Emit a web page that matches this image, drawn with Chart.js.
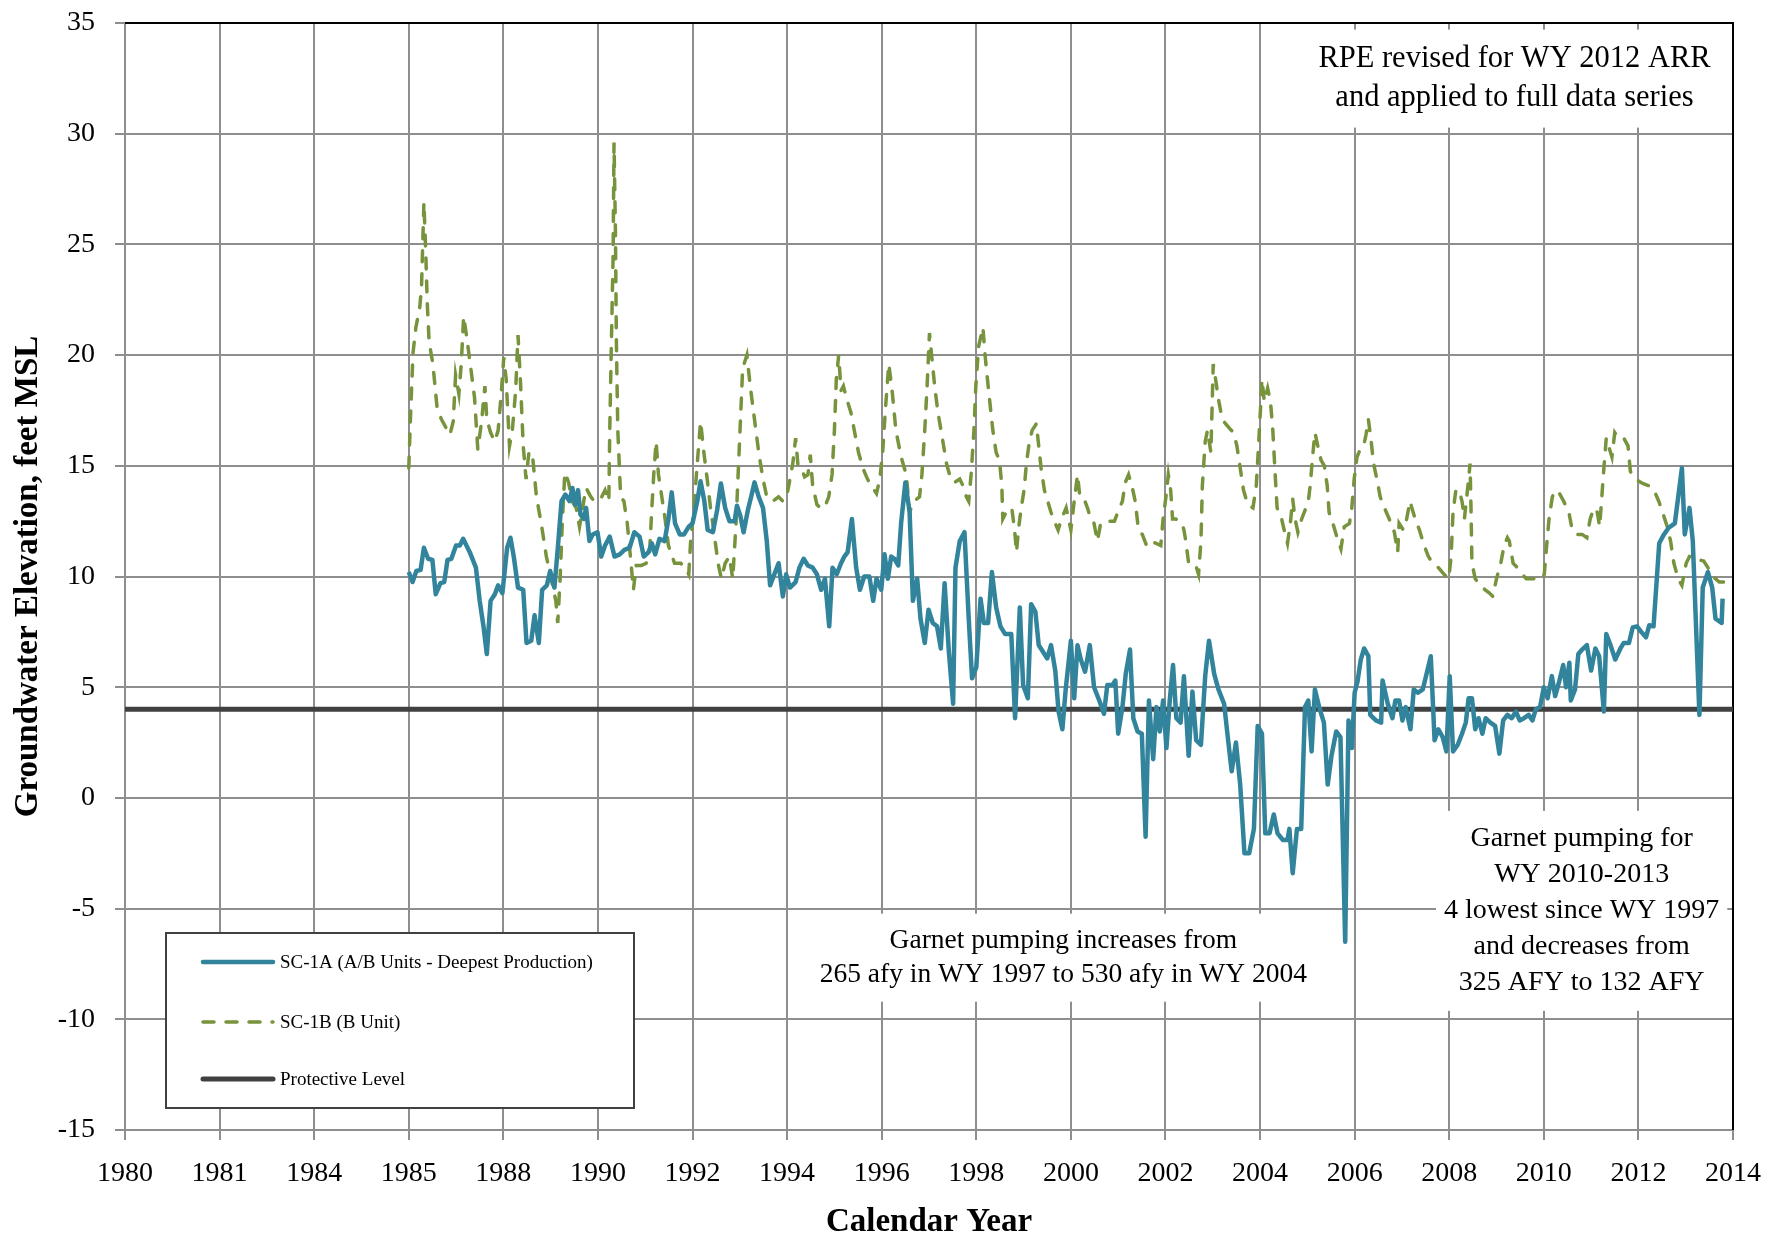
<!DOCTYPE html>
<html>
<head>
<meta charset="utf-8">
<title>SC-1A / SC-1B Groundwater Elevation</title>
<script src="https://cdn.jsdelivr.net/npm/chart.js@4.4.1/dist/chart.umd.min.js"></script>
<style>
  html, body { margin: 0; padding: 0; background: #fff; }
  #wrap { width: 1786px; height: 1239px; }
</style>
</head>
<body>
<div id="wrap"><canvas id="elevChart" width="1786" height="1239"></canvas></div>
<script>
// axis labels as printed on the report figure (one label per 2-year gridline)
const xTickLabels = ["1980", "1981", "1984", "1985", "1988", "1990", "1992", "1994", "1996",
    "1998", "2000", "2002", "2004", "2006", "2008", "2010", "2012", "2014"];
const yTicks = [-15, -10, -5, 0, 5, 10, 15, 20, 25, 30, 35];

const protectiveLevel = 4; // feet MSL

// SC-1A (A/B Units - Deepest Production), decimal year / feet MSL
const sc1aYears = [
    1986.0, 1986.08, 1986.16, 1986.25, 1986.32, 1986.41, 1986.5, 1986.57, 1986.67, 1986.75, 1986.82, 1986.9,
    1987.0, 1987.08, 1987.15, 1987.29, 1987.42, 1987.5, 1987.58, 1987.65, 1987.73, 1987.82, 1987.89, 1987.98,
    1988.08, 1988.15, 1988.22, 1988.31, 1988.42, 1988.49, 1988.59, 1988.66, 1988.75, 1988.82, 1988.92, 1988.99,
    1989.08, 1989.15, 1989.23, 1989.31, 1989.4, 1989.46, 1989.52, 1989.58, 1989.63, 1989.7, 1989.75, 1989.82, 1989.89, 1989.99,
    1990.07, 1990.15, 1990.25, 1990.35, 1990.46, 1990.56, 1990.67, 1990.77, 1990.88, 1990.97,
    1991.07, 1991.14, 1991.21, 1991.3, 1991.41, 1991.49, 1991.56, 1991.63, 1991.73, 1991.82, 1991.92,
    1992.0, 1992.1, 1992.17, 1992.25, 1992.32, 1992.43, 1992.52, 1992.6, 1992.69, 1992.78, 1992.89, 1992.94,
    1993.01, 1993.08, 1993.17, 1993.24, 1993.31, 1993.4, 1993.49, 1993.57, 1993.64, 1993.73, 1993.82, 1993.91, 1993.98,
    1994.06, 1994.18, 1994.26, 1994.35, 1994.44, 1994.54, 1994.63, 1994.72, 1994.8, 1994.89, 1994.96,
    1995.05, 1995.14, 1995.21, 1995.28, 1995.37, 1995.46, 1995.54, 1995.63, 1995.74, 1995.82, 1995.89, 1995.99,
    1996.06, 1996.13, 1996.2, 1996.27, 1996.35, 1996.41, 1996.5, 1996.59, 1996.66, 1996.75, 1996.82, 1996.91, 1996.99,
    1997.08, 1997.17, 1997.25, 1997.33, 1997.42, 1997.51, 1997.56, 1997.65, 1997.75, 1997.84, 1997.91,
    1998.0, 1998.09, 1998.16, 1998.25, 1998.33, 1998.42, 1998.51, 1998.61, 1998.74, 1998.82, 1998.92, 1998.99,
    1999.09, 1999.16, 1999.25, 1999.32, 1999.41, 1999.5, 1999.58, 1999.67, 1999.74, 1999.82, 1999.89,
    2000.0, 2000.07, 2000.14, 2000.21, 2000.3, 2000.4, 2000.49, 2000.6, 2000.7, 2000.77, 2000.88, 2000.94,
    2001.0, 2001.09, 2001.16, 2001.25, 2001.32, 2001.41, 2001.5, 2001.58, 2001.65, 2001.74, 2001.81, 2001.88, 2001.95,
    2002.02, 2002.09, 2002.16, 2002.23, 2002.32, 2002.39, 2002.49, 2002.57, 2002.65, 2002.75, 2002.84, 2002.92,
    2003.03, 2003.12, 2003.24, 2003.32, 2003.4, 2003.49, 2003.58, 2003.67, 2003.77, 2003.87, 2003.95,
    2004.04, 2004.11, 2004.2, 2004.29, 2004.37, 2004.48, 2004.58, 2004.62, 2004.69, 2004.78, 2004.87, 2004.95,
    2005.02, 2005.09, 2005.16, 2005.25, 2005.35, 2005.43, 2005.51, 2005.61, 2005.7, 2005.8, 2005.87, 2005.94,
    2006.0, 2006.06, 2006.13, 2006.2, 2006.29, 2006.33, 2006.45, 2006.56, 2006.59, 2006.7, 2006.8, 2006.86, 2006.94,
    2007.01, 2007.08, 2007.18, 2007.25, 2007.34, 2007.44, 2007.52, 2007.61, 2007.69, 2007.77, 2007.86, 2007.94,
    2008.01, 2008.08, 2008.18, 2008.27, 2008.35, 2008.41, 2008.48, 2008.55, 2008.62, 2008.7, 2008.77, 2008.87, 2008.97,
    2009.06, 2009.14, 2009.23, 2009.32, 2009.41, 2009.49, 2009.58, 2009.68, 2009.76, 2009.83, 2009.92,
    2010.0, 2010.08, 2010.17, 2010.24, 2010.33, 2010.41, 2010.47, 2010.54, 2010.57, 2010.66, 2010.73, 2010.81, 2010.91,
    2011.0, 2011.09, 2011.17, 2011.27, 2011.32, 2011.41, 2011.51, 2011.62, 2011.69, 2011.8, 2011.88, 2011.97,
    2012.06, 2012.16, 2012.23, 2012.32, 2012.44, 2012.54, 2012.64, 2012.77, 2012.92, 2012.98,
    2013.08, 2013.15, 2013.29, 2013.36, 2013.47, 2013.56, 2013.63, 2013.76, 2013.78
];
const sc1aFeet = [
    10.2, 9.75, 10.25, 10.3, 11.3, 10.8, 10.75, 9.2, 9.7, 9.75, 10.75, 10.8,
    11.4, 11.4, 11.7, 11.1, 10.4, 8.9, 7.75, 6.5, 8.9, 9.2, 9.6, 9.25,
    11.3, 11.75, 10.9, 9.5, 9.4, 7.0, 7.1, 8.25, 7.0, 9.4, 9.6, 10.25,
    9.5, 11.25, 13.4, 13.7, 13.4, 14.0, 13.25, 13.9, 12.8, 12.6, 13.1, 11.6, 11.9, 12.0,
    10.9, 11.4, 11.8, 10.9, 11.0, 11.2, 11.3, 12.0, 11.8, 10.9,
    11.1, 11.5, 11.0, 11.7, 11.6, 12.6, 13.8, 12.4, 11.9, 11.9, 12.25,
    12.4, 13.4, 14.3, 13.4, 12.1, 12.0, 13.0, 14.2, 13.1, 12.5, 12.5, 13.2,
    12.75, 12.0, 13.0, 13.6, 14.25, 13.6, 13.1, 11.6, 9.6, 10.1, 10.6, 9.1, 10.1,
    9.5, 9.75, 10.4, 10.8, 10.5, 10.4, 10.1, 9.4, 9.9, 7.75, 10.4,
    10.1, 10.6, 10.9, 11.1, 12.6, 10.4, 9.4, 10.0, 10.0, 8.9, 9.9, 9.4,
    11.0, 9.9, 10.9, 10.8, 10.5, 12.4, 14.25, 12.9, 8.9, 9.9, 8.1, 7.0, 8.5,
    7.9, 7.75, 6.75, 9.7, 6.6, 4.25, 10.4, 11.6, 12.0, 8.1, 5.4,
    5.9, 9.0, 7.9, 7.9, 10.2, 8.6, 7.75, 7.4, 7.4, 3.6, 8.6, 5.1,
    4.5, 8.75, 8.4, 6.9, 6.6, 6.3, 6.9, 5.75, 3.9, 3.1, 4.9,
    7.1, 4.5, 6.9, 6.25, 5.7, 6.9, 5.0, 4.4, 3.8, 5.1, 5.1, 5.3,
    2.9, 4.1, 5.6, 6.7, 3.6, 3.0, 2.9, -1.75, 4.4, 1.75, 4.1, 3.0, 4.4,
    2.25, 4.4, 6.0, 3.6, 3.4, 5.5, 1.9, 4.8, 2.6, 2.4, 5.5, 7.1,
    5.6, 4.9, 4.25, 2.7, 1.2, 2.5, 0.6, -2.5, -2.5, -1.4, 3.25,
    2.9, -1.6, -1.6, -0.75, -1.6, -1.9, -1.9, -1.4, -3.4, -1.4, -1.4, 4.1,
    4.4, 2.1, 4.9, 4.1, 3.4, 0.6, 1.9, 3.0, 2.75, -6.5, 3.5, 2.25,
    4.75, 5.25, 6.25, 6.75, 6.4, 3.75, 3.5, 3.4, 5.3, 4.25, 3.6, 4.4, 4.4,
    3.5, 4.1, 3.1, 4.9, 4.75, 4.9, 5.6, 6.4, 2.6, 3.1, 2.75, 2.1,
    5.5, 2.1, 2.4, 2.9, 3.4, 4.5, 4.5, 3.1, 3.6, 2.9, 3.6, 3.4, 3.25,
    2.0, 3.5, 3.75, 3.6, 3.9, 3.5, 3.6, 3.75, 3.5, 4.0, 4.1,
    5.0, 4.5, 5.5, 4.6, 5.3, 6.0, 5.0, 6.1, 4.4, 4.9, 6.5, 6.7, 6.9,
    5.75, 6.75, 6.4, 3.9, 7.4, 6.9, 6.25, 6.75, 7.0, 7.0, 7.7, 7.75,
    7.5, 7.25, 7.8, 7.75, 11.5, 11.9, 12.2, 12.4, 14.9, 11.9,
    13.1, 11.6, 3.75, 9.5, 10.2, 9.5, 8.1, 7.9, 9.0
];

// SC-1B (B Unit), decimal year / feet MSL
const sc1bYears = [
    1986.0, 1986.04, 1986.09, 1986.15, 1986.23, 1986.27, 1986.32, 1986.36, 1986.39, 1986.43, 1986.51, 1986.6, 1986.69, 1986.87, 1986.94, 1986.99,
    1987.06, 1987.11, 1987.16, 1987.22, 1987.3, 1987.39, 1987.46, 1987.54, 1987.61, 1987.65, 1987.73, 1987.82, 1987.89, 1987.96,
    1988.01, 1988.06, 1988.13, 1988.19, 1988.26, 1988.31, 1988.36, 1988.42, 1988.48, 1988.54, 1988.61, 1988.7, 1988.8, 1988.91,
    1989.01, 1989.11, 1989.15, 1989.2, 1989.25, 1989.3, 1989.38, 1989.45, 1989.54, 1989.61, 1989.7, 1989.75, 1989.85, 1989.92,
    1990.0, 1990.08, 1990.15, 1990.23, 1990.25, 1990.28, 1990.32, 1990.34, 1990.37, 1990.39, 1990.42, 1990.48, 1990.55, 1990.62, 1990.7, 1990.75, 1990.81, 1990.92,
    1991.02, 1991.09, 1991.14, 1991.18, 1991.23, 1991.28, 1991.35, 1991.42, 1991.49, 1991.62, 1991.75, 1991.85, 1991.92, 1991.96,
    1992.03, 1992.1, 1992.17, 1992.24, 1992.31, 1992.38, 1992.46, 1992.54, 1992.61, 1992.69, 1992.78, 1992.85, 1992.92, 1992.99,
    1993.06, 1993.15, 1993.22, 1993.31, 1993.4, 1993.49, 1993.57, 1993.7, 1993.82, 1993.91, 1993.99,
    1994.06, 1994.12, 1994.18, 1994.23, 1994.3, 1994.37, 1994.44, 1994.49, 1994.54, 1994.63, 1994.7, 1994.79, 1994.88, 1994.95,
    1995.0, 1995.04, 1995.09, 1995.14, 1995.19, 1995.25, 1995.35, 1995.42, 1995.51, 1995.6, 1995.7, 1995.81, 1995.89, 1995.96,
    1996.02, 1996.08, 1996.15, 1996.22, 1996.3, 1996.41, 1996.52, 1996.59, 1996.68, 1996.8, 1996.85, 1996.91, 1996.96,
    1997.01, 1997.06, 1997.12, 1997.19, 1997.27, 1997.37, 1997.46, 1997.54, 1997.65, 1997.72, 1997.79, 1997.84, 1997.89, 1997.95, 1997.99,
    1998.05, 1998.14, 1998.19, 1998.26, 1998.35, 1998.42, 1998.49, 1998.54, 1998.56, 1998.63, 1998.75, 1998.81, 1998.85, 1998.89, 1998.95,
    1999.01, 1999.06, 1999.11, 1999.18, 1999.27, 1999.32, 1999.37, 1999.44, 1999.51, 1999.58, 1999.67, 1999.73, 1999.8, 1999.9,
    2000.0, 2000.07, 2000.14, 2000.19, 2000.28, 2000.35, 2000.42, 2000.49, 2000.56, 2000.63, 2000.74, 2000.85, 2000.92,
    2001.01, 2001.09, 2001.15, 2001.22, 2001.29, 2001.36, 2001.43, 2001.51, 2001.6, 2001.69, 2001.8, 2001.9, 2001.95,
    2002.01, 2002.06, 2002.11, 2002.15, 2002.22, 2002.27, 2002.35, 2002.39, 2002.43, 2002.49, 2002.57, 2002.64, 2002.7, 2002.75, 2002.78, 2002.84, 2002.89, 2002.96,
    2003.01, 2003.06, 2003.13, 2003.2, 2003.27, 2003.35, 2003.44, 2003.51, 2003.58, 2003.65, 2003.74, 2003.85, 2003.92, 2003.96,
    2004.01, 2004.04, 2004.09, 2004.16, 2004.22, 2004.27, 2004.32, 2004.36, 2004.44, 2004.51, 2004.58, 2004.64, 2004.69, 2004.74, 2004.8, 2004.88, 2004.97,
    2005.02, 2005.06, 2005.11, 2005.16, 2005.22, 2005.29, 2005.36, 2005.42, 2005.46, 2005.54, 2005.63, 2005.71, 2005.78, 2005.89, 2005.94, 2005.99,
    2006.05, 2006.12, 2006.19, 2006.24, 2006.29, 2006.35, 2006.4, 2006.47, 2006.54, 2006.63, 2006.73, 2006.84, 2006.91, 2006.94,
    2007.03, 2007.1, 2007.17, 2007.21, 2007.28, 2007.37, 2007.47, 2007.56, 2007.65, 2007.77, 2007.89, 2007.99,
    2008.04, 2008.08, 2008.14, 2008.21, 2008.27, 2008.32, 2008.37, 2008.41, 2008.44, 2008.46, 2008.48, 2008.55, 2008.65, 2008.76, 2008.85, 2008.92,
    2009.0, 2009.09, 2009.16, 2009.23, 2009.27, 2009.35, 2009.44, 2009.54, 2009.63, 2009.75, 2009.87, 2009.96,
    2010.01, 2010.06, 2010.11, 2010.18, 2010.25, 2010.33, 2010.42, 2010.53, 2010.6, 2010.7, 2010.81, 2010.91, 2010.98,
    2011.06, 2011.13, 2011.18, 2011.22, 2011.27, 2011.32, 2011.39, 2011.44, 2011.5, 2011.58, 2011.69, 2011.78, 2011.83, 2011.94,
    2012.09, 2012.22, 2012.32, 2012.43, 2012.51, 2012.61, 2012.68, 2012.75, 2012.84, 2012.92,
    2013.01, 2013.08, 2013.19, 2013.28, 2013.38, 2013.47, 2013.54, 2013.63, 2013.71, 2013.8
];
const sc1bFeet = [
    14.9, 17.4, 20.1, 21.25, 22.1, 23.1, 26.9, 24.6, 22.4, 20.6, 19.6, 17.6, 17.1, 16.4, 17.0, 19.1,
    18.25, 19.6, 21.75, 20.9, 19.6, 18.1, 15.75, 17.0, 18.6, 17.1, 16.5, 16.1, 16.6, 18.4,
    19.9, 18.9, 15.9, 16.6, 18.4, 20.9, 18.9, 15.9, 14.4, 15.6, 15.6, 13.6, 12.4, 10.9,
    9.9, 8.9, 7.9, 9.9, 12.6, 14.7, 14.25, 13.4, 13.1, 12.25, 13.4, 14.0, 13.6, 13.4,
    13.6, 13.6, 13.9, 13.4, 16.6, 20.1, 24.4, 29.6, 25.6, 20.6, 16.6, 13.6, 13.4, 12.4, 10.6, 9.4, 10.5, 10.5,
    10.6, 11.0, 13.1, 14.6, 16.1, 14.6, 13.6, 12.6, 11.4, 10.6, 10.6, 10.4, 10.1, 11.6,
    13.1, 15.1, 17.0, 15.6, 14.4, 13.1, 11.9, 10.6, 9.9, 10.6, 10.9, 9.9, 12.4, 15.9,
    19.4, 20.0, 18.6, 17.1, 15.6, 14.4, 13.6, 13.4, 13.6, 13.4, 13.6,
    14.4, 15.1, 16.25, 15.0, 14.9, 14.5, 14.6, 15.5, 14.1, 13.25, 13.1, 13.1, 13.6, 14.6,
    16.6, 18.9, 20.0, 18.4, 18.6, 18.1, 17.4, 16.6, 15.6, 14.9, 14.4, 14.0, 13.75, 14.4,
    15.6, 17.6, 19.6, 18.4, 16.6, 15.4, 14.6, 12.9, 13.4, 13.6, 14.6, 16.6, 18.6,
    21.0, 19.9, 18.6, 17.4, 16.4, 15.1, 14.4, 14.25, 14.4, 14.1, 13.6, 13.4, 14.6, 16.6, 18.6,
    20.4, 21.25, 19.9, 18.4, 16.6, 15.6, 15.25, 14.1, 12.6, 12.9, 13.1, 12.1, 11.1, 12.1, 13.1,
    13.9, 15.1, 15.9, 16.6, 16.9, 15.9, 14.9, 13.9, 13.4, 12.9, 12.4, 12.1, 12.6, 13.1,
    12.1, 13.4, 14.6, 13.6, 13.5, 13.1, 12.6, 12.4, 11.6, 12.4, 12.5, 12.5, 12.5,
    13.0, 13.4, 14.25, 14.6, 14.1, 13.4, 12.1, 11.9, 11.4, 11.6, 11.5, 11.4, 12.6,
    13.6, 14.6, 13.9, 12.6, 12.6, 12.5, 12.4, 12.1, 11.6, 10.6, 10.6, 10.5, 10.1, 11.6, 14.1, 16.1, 16.6, 15.6,
    19.6, 18.9, 17.9, 17.1, 16.9, 16.7, 16.5, 15.9, 14.9, 13.9, 13.25, 13.1, 14.1, 15.6,
    17.6, 18.9, 17.9, 18.5, 17.9, 16.6, 14.6, 13.1, 12.75, 12.1, 11.5, 12.4, 13.5, 12.6, 12.0, 12.6, 13.1,
    13.4, 14.1, 15.4, 16.5, 15.9, 15.25, 15.0, 14.1, 12.9, 12.4, 11.75, 11.25, 12.25, 12.4, 13.1, 14.4,
    15.4, 15.75, 15.9, 16.4, 17.1, 16.1, 15.1, 14.4, 13.6, 13.1, 12.6, 12.0, 11.1, 12.4,
    12.1, 12.6, 13.4, 13.1, 12.6, 12.1, 11.4, 10.9, 10.6, 10.4, 10.1, 9.9,
    10.9, 12.9, 13.9, 13.9, 13.4, 12.6, 13.6, 14.4, 15.1, 13.1, 10.6, 9.9, 9.6, 9.4, 9.25, 9.1,
    9.9, 10.6, 11.4, 11.75, 11.6, 10.6, 10.4, 10.1, 9.9, 9.9, 9.9, 9.9,
    10.1, 11.4, 12.6, 13.6, 13.9, 13.75, 13.4, 12.9, 12.1, 11.9, 11.9, 11.75, 12.6,
    13.1, 12.9, 12.25, 13.4, 14.9, 16.25, 15.75, 15.4, 16.5, 16.25, 16.25, 15.9, 14.75, 14.4,
    14.2, 14.1, 13.95, 13.4, 12.9, 12.25, 11.6, 10.6, 9.9, 9.6,
    10.6, 10.9, 10.9, 10.75, 10.7, 10.4, 10.1, 9.9, 9.75, 9.75
];

const SERIF = '"Liberation Serif", "Times New Roman", serif';
const GRID_GRAY = "#8e8e8e";

const toPoints = (xs, ys) => xs.map((x, i) => ({ x: x, y: ys[i] }));

// text boxes inside the plot; x/y = centre of first line in data units
const notes = [
    { x: 2009.38, y: 33.37, gap: 39, size: 30.5, lines: ["RPE revised for WY 2012 ARR", "and applied to full data series"] },
    { x: 1999.84, y: -6.45, gap: 34, size: 27.5, lines: ["Garnet pumping increases from", "265 afy in WY 1997 to 530 afy in WY 2004"] },
    { x: 2010.8, y: -1.85, gap: 36, size: 28, lines: ["Garnet pumping for", "WY 2010-2013", "4 lowest since WY 1997",
        "and decreases from", "325 AFY to 132 AFY"] }
];

// black top / right edge of the plot area
const framePlugin = {
    id: "frame",
    beforeDatasetsDraw(chart) {
        const { ctx, chartArea: a } = chart;
        ctx.save();
        ctx.strokeStyle = "#000";
        ctx.lineWidth = 2;
        ctx.beginPath();
        ctx.moveTo(a.left, a.top);
        ctx.lineTo(a.right, a.top);
        ctx.lineTo(a.right, a.bottom);
        ctx.stroke();
        ctx.restore();
    }
};

const notesPlugin = {
    id: "notes",
    afterDatasetsDraw(chart) {
        const { ctx, scales } = chart;
        ctx.save();
        ctx.textAlign = "center";
        ctx.textBaseline = "middle";
        notes.forEach(n => {
            ctx.font = n.size + "px " + SERIF;
            const cx = scales.x.getPixelForValue(n.x);
            const cy = scales.y.getPixelForValue(n.y);
            const w = Math.max(...n.lines.map(l => ctx.measureText(l).width)) + 16;
            const h = n.gap * n.lines.length + 20;
            ctx.fillStyle = "#fff";
            ctx.fillRect(cx - w / 2, cy - n.gap / 2 - 10, w, h);
            ctx.fillStyle = "#000";
            n.lines.forEach((l, i) => ctx.fillText(l, cx, cy + i * n.gap));
        });
        ctx.restore();
    }
};

// legend box drawn inside the plot, lower left
const legendPlugin = {
    id: "boxLegend",
    afterDatasetsDraw(chart) {
        const { ctx, chartArea: a } = chart;
        const left = a.left + 41, top = a.top + 910, width = 468, height = 175;
        const rows = [29, 89, 146];
        ctx.save();
        ctx.fillStyle = "#fff";
        ctx.fillRect(left, top, width, height);
        ctx.strokeStyle = "#404040";
        ctx.lineWidth = 2;
        ctx.strokeRect(left, top, width, height);
        ctx.font = "19px " + SERIF;
        ctx.textBaseline = "middle";
        chart.data.datasets.forEach((ds, i) => {
            const y = top + rows[i];
            ctx.strokeStyle = ds.borderColor;
            ctx.lineWidth = ds.borderWidth;
            ctx.lineCap = "round";
            ctx.setLineDash(ds.borderDash || []);
            ctx.beginPath();
            ctx.moveTo(left + 37, y);
            ctx.lineTo(left + 107, y);
            ctx.stroke();
            ctx.setLineDash([]);
            ctx.fillStyle = "#000";
            ctx.fillText(ds.label, left + 114, y + 1);
        });
        ctx.restore();
    }
};

const ctx = document.getElementById("elevChart").getContext("2d");
new Chart(ctx, {
    type: "line",
    data: {
        datasets: [
            {
                label: "SC-1A (A/B Units - Deepest Production)",
                data: toPoints(sc1aYears, sc1aFeet),
                borderColor: "#31849B",
                borderWidth: 4.5,
                borderJoinStyle: "round",
                pointRadius: 0,
                tension: 0,
            },
            {
                label: "SC-1B (B Unit)",
                data: toPoints(sc1bYears, sc1bFeet),
                borderColor: "#77933C",
                borderWidth: 3.5,
                borderDash: [11, 12],
                borderCapStyle: "round",
                pointRadius: 0,
                tension: 0,
            },
            {
                label: "Protective Level",
                data: [{ x: 1980, y: protectiveLevel }, { x: 2014, y: protectiveLevel }],
                borderColor: "#404040",
                borderWidth: 5,
                pointRadius: 0,
            },
        ],
    },
    options: {
        responsive: false,
        animation: false,
        devicePixelRatio: 1,
        layout: { padding: { top: 23, right: 53, left: 0, bottom: 0 } },
        plugins: {
            legend: { display: false },
            tooltip: { enabled: false },
        },
        scales: {
            x: {
                type: "linear",
                min: 1980,
                max: 2014,
                afterBuildTicks: s => { s.ticks = xTickLabels.map((_, i) => ({ value: 1980 + 2 * i })); },
                afterFit: s => { s.height = 109; },
                ticks: {
                    autoSkip: false,
                    maxRotation: 0,
                    padding: 17,
                    color: "#000",
                    font: { family: SERIF, size: 28 },
                    callback: v => xTickLabels[Math.round((v - 1980) / 2)],
                },
                grid: { color: GRID_GRAY, lineWidth: 2, tickLength: 10, tickColor: GRID_GRAY },
                border: { color: GRID_GRAY, width: 2 },
                title: {
                    display: true,
                    text: "Calendar Year",
                    color: "#000",
                    font: { family: SERIF, size: 33, weight: "bold", lineHeight: 1.0 },
                    padding: 0,
                },
            },
            y: {
                min: -15,
                max: 35,
                afterBuildTicks: s => { s.ticks = yTicks.map(v => ({ value: v })); },
                afterFit: s => { s.width = 125; s.paddingTop = 0; s.paddingBottom = 0; },
                ticks: {
                    padding: 20,
                    color: "#000",
                    font: { family: SERIF, size: 28 },
                },
                grid: { color: GRID_GRAY, lineWidth: 2, tickLength: 10, tickColor: GRID_GRAY },
                border: { color: GRID_GRAY, width: 2 },
                title: {
                    display: true,
                    text: "Groundwater Elevation, feet MSL",
                    color: "#000",
                    font: { family: SERIF, size: 33, weight: "bold", lineHeight: 1.0 },
                    padding: { top: 12, bottom: 0 },
                },
            },
        },
    },
    plugins: [framePlugin, notesPlugin, legendPlugin],
});
</script>
</body>
</html>
